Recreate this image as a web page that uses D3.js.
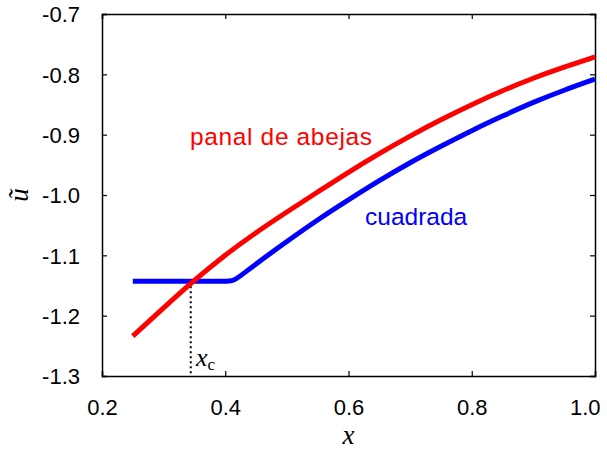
<!DOCTYPE html>
<html><head><meta charset="utf-8">
<script src="https://cdn.jsdelivr.net/npm/d3@7"></script>
<style>body{margin:0;background:#fff}svg{display:block}</style>
</head><body>
<script>
const xTicks = [0.2, 0.4, 0.6, 0.8, 1.0];
const xTickLabels = ["0.2", "0.4", "0.6", "0.8", "1.0"];
const yTicks = [-0.7, -0.8, -0.9, -1.0, -1.1, -1.2, -1.3];
const yTickLabels = ["-0.7", "-0.8", "-0.9", "-1.0", "-1.1", "-1.2", "-1.3"];
const honeyX = [0.25, 0.30, 0.35, 0.40, 0.45, 0.50, 0.55, 0.60, 0.65, 0.70, 0.75, 0.80, 0.85, 0.90, 0.95, 1.00];
const honeyY = [-1.234, -1.187, -1.141, -1.099, -1.062, -1.028, -0.995, -0.962, -0.931, -0.902, -0.875, -0.850, -0.827, -0.806, -0.788, -0.771];
const squareX = [0.25, 0.30, 0.35, 0.40, 0.413, 0.43, 0.45, 0.50, 0.55, 0.60, 0.65, 0.70, 0.75, 0.80, 0.85, 0.90, 0.95, 1.00];
const squareY = [-1.143, -1.143, -1.143, -1.143, -1.143, -1.130, -1.114, -1.077, -1.041, -1.008, -0.976, -0.946, -0.919, -0.893, -0.869, -0.846, -0.826, -0.808];
const xc = 0.344, uc = -1.143;
const labels = ["panal de abejas", "cuadrada"];

const W = 607, H = 449;
const m = {l: 102, r: 12, t: 14, b: 73};
const svg = d3.select("body").append("svg").attr("width", W).attr("height", H);
const x = d3.scaleLinear().domain([0.2, 1.0]).range([m.l, W - m.r]);
const y = d3.scaleLinear().domain([-1.3, -0.7]).range([H - m.b, m.t]);

const font = "'Liberation Sans', Arial, Helvetica, sans-serif";
const tl = 5;

const gB = svg.append("g").attr("transform", `translate(0,${H - m.b})`)
  .call(d3.axisBottom(x).tickValues(xTicks).tickSize(-tl).tickPadding(23)
    .tickFormat((d, i) => xTickLabels[i]));
const gT = svg.append("g").attr("transform", `translate(0,${m.t})`)
  .call(d3.axisTop(x).tickValues(xTicks).tickSize(-tl).tickFormat(""));
const gL = svg.append("g").attr("transform", `translate(${m.l},0)`)
  .call(d3.axisLeft(y).tickValues(yTicks).tickSize(-tl).tickPadding(22)
    .tickFormat((d, i) => yTickLabels[i]));
const gR = svg.append("g").attr("transform", `translate(${W - m.r},0)`)
  .call(d3.axisRight(y).tickValues(yTicks).tickSize(-tl).tickFormat(""));
[gB, gT, gL, gR].forEach(g => {
  g.select(".domain").attr("stroke", "#000").attr("stroke-width", 1.5);
  g.selectAll(".tick line").attr("stroke", "#000").attr("stroke-width", 1.2);
  g.selectAll("text").attr("font-family", font).attr("font-size", 22).attr("fill", "#000");
});
gL.selectAll("text").attr("dy", "0.35em");
gB.selectAll("text").attr("dy", "0.71em");
gB.selectAll(".tick").filter(d => d === 1.0).select("text")
  .attr("text-anchor", "end").attr("x", 5);

svg.append("line")
  .attr("x1", x(xc)).attr("x2", x(xc)).attr("y1", y(uc)).attr("y2", y(-1.3))
  .attr("stroke", "#000").attr("stroke-width", 2).attr("stroke-dasharray", "2,3");

const line = d3.line().x(d => x(d[0])).y(d => y(d[1])).curve(d3.curveBasis);
const honey = honeyX.map((v, i) => [v, honeyY[i]]);
const square = squareX.map((v, i) => [v, squareY[i]]);
svg.append("path").datum(square).attr("d", line).attr("fill", "none")
  .attr("stroke", "#0000ff").attr("stroke-width", 5).attr("stroke-linejoin", "round");
svg.append("path").datum(honey).attr("d", line).attr("fill", "none")
  .attr("stroke", "#ff0000").attr("stroke-width", 5).attr("stroke-linejoin", "round");

svg.append("text").attr("x", 190).attr("y", 145).attr("font-family", font).attr("font-size", 24.5)
  .attr("fill", "#ff0000").attr("textLength", 182).attr("lengthAdjust", "spacing").text(labels[0]);
svg.append("text").attr("x", 365).attr("y", 225).attr("font-family", font).attr("font-size", 24.5)
  .attr("fill", "#0000ff").text(labels[1]);

const serif = "'Liberation Serif', 'Times New Roman', serif";
svg.append("text").attr("x", x(0.6)).attr("y", 444).attr("text-anchor", "middle")
  .attr("font-family", serif).attr("font-style", "italic").attr("font-size", 27).text("x");
svg.append("text").attr("transform", `translate(28,${y(-1.0)}) rotate(-90)`).attr("text-anchor", "middle")
  .attr("font-family", serif).attr("font-style", "italic").attr("font-size", 27).text("ũ");
const xcT = svg.append("text").attr("x", 196).attr("y", 366)
  .attr("font-family", serif).attr("font-style", "italic").attr("font-size", 26).text("x");
xcT.append("tspan").attr("font-style", "normal").attr("font-size", 17).attr("dy", 4).text("c");
</script>
</body></html>
